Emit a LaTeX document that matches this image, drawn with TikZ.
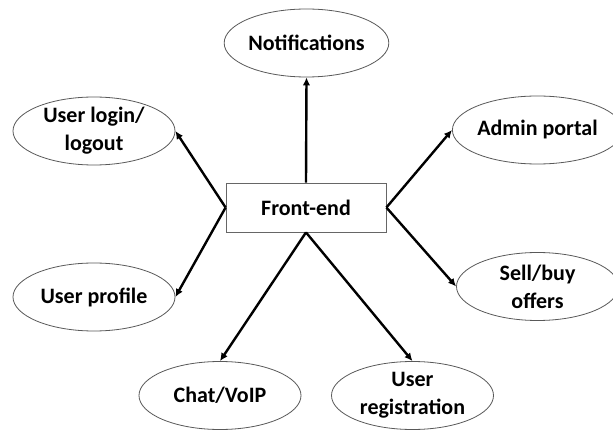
\documentclass[tikz,border=0pt]{standalone}
\usepackage{fontspec}
\setmainfont{Carlito}
\usetikzlibrary{shapes.geometric,arrows.meta}
\begin{document}
\begin{tikzpicture}[x=1pt,y=-1pt,
  every node/.style={font=\fontsize{22}{28}\selectfont\bfseries, text=black},
  bubble/.style={ellipse, draw=black!65, line width=0.8pt, minimum width=162pt, minimum height=68pt, inner sep=0pt, align=center},
  hub/.style={rectangle, draw=black!60, line width=0.8pt, minimum width=160pt, minimum height=49pt, inner sep=0pt},
  link/.style={line width=2.4pt, -{Latex[length=8pt,width=7.5pt]}}]
\useasboundingbox[fill=white] (0,0) rectangle (613,430);

\node[hub] (fe) at (306,207.5) {Front-end};

\node[bubble] (notif) at (306.5,43) {Notifications};
\node[bubble] (login) at (94,131) {User login/\\logout};
\node[bubble] (profile) at (94,297) {User profile};
\node[bubble] (admin) at (537.5,130) {Admin portal};
\node[bubble] (sell) at (537.5,286.5) {Sell/buy\\offers};
\node[bubble] (chat) at (220,395.5) {Chat/VoIP};
\node[bubble] (reg) at (412.5,395.5) {User\\registration};

\draw[link] (fe.north) -- (notif.south);
\draw[link] (fe.west) -- (login.east);
\draw[link] (fe.west) -- (profile.east);
\draw[link] (fe.east) -- (admin.west);
\draw[link] (fe.east) -- (sell.west);
\draw[link] (fe.south) -- (chat.north);
\draw[link] (fe.south) -- (reg.north);
\end{tikzpicture}
\end{document}
